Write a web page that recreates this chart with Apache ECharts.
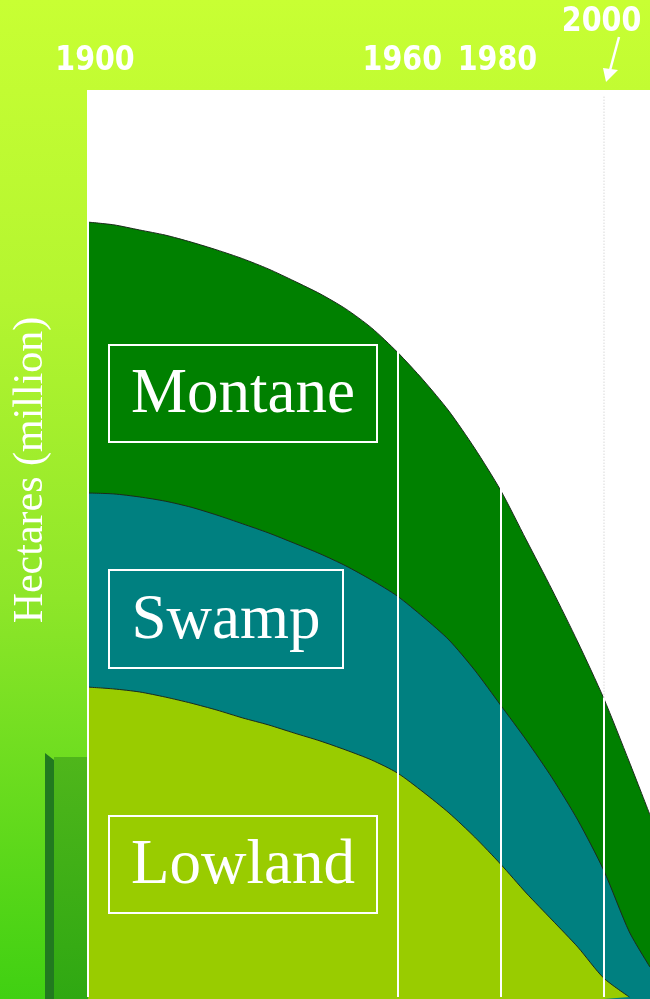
<!DOCTYPE html>
<html>
<head>
<meta charset="utf-8">
<script src="https://cdn.jsdelivr.net/npm/echarts@6/dist/echarts.min.js"></script>
<style>
html,body{margin:0;padding:0;}
#chart{width:650px;height:999px;background:linear-gradient(180deg,#c8ff33 0%,#b4f530 30%,#8ee629 60%,#40d012 100%);}
</style>
</head>
<body>
<div id="chart"></div>
<script>
// ---- data (million hectares) ----
const years   = [1900,1905,1910,1915,1920,1925,1930,1935,1940,1945,1950,1955,1960,1965,1970,1975,1980,1985,1990,1995,2000,2005,2009];
const lowland = [10.25,10.19,10.09,9.92,9.72,9.49,9.23,9.00,8.73,8.47,8.17,7.84,7.41,6.78,6.09,5.29,4.40,3.44,2.55,1.65,0.63,0,null];
const swamp   = [6.42,6.45,6.45,6.48,6.48,6.45,6.42,6.35,6.28,6.19,6.09,5.95,5.85,5.79,5.72,5.52,5.26,5.06,4.70,4.20,3.57,2.15,0.99];
const montane = [8.96,8.90,8.83,8.80,8.77,8.77,8.77,8.73,8.67,8.60,8.50,8.34,8.07,7.84,7.57,7.34,7.11,6.62,6.22,5.89,5.69,5.62,5.03];
const seriesNames = ['Lowland','Swamp','Montane'];
const yearLabels = ['1900','1960','1980','2000'];
const markYears = [1900,1960,1980,2000];
const yTitle = 'Hectares (million)';

const chart = echarts.init(document.getElementById('chart'), null, {renderer:'canvas'});

// cumulative (stacked) tops computed from the layer arrays
const layers = [lowland, swamp, montane];
const cum = layers.map((arr,i)=> years.map((y,j)=>{
  if (arr[j] === null) return [y, null];
  let s = 0; for (let k=0;k<=i;k++) s += (layers[k][j] || 0);
  return [y, +s.toFixed(3)];
}));
const i2000 = years.indexOf(2000);
const totals2000 = lowland[i2000] + swamp[i2000] + montane[i2000];

const colors = ['#99cc00','#008080','#008000'];
const series = [];
for (let i=2;i>=0;i--) {
  series.push({
    name: seriesNames[i], type:'line', data: cum[i],
    showSymbol:false, smooth:0.25, z:2+(2-i), connectNulls:false,
    lineStyle:{color:'#1c2a1c', width:1},
    areaStyle:{color:colors[i], opacity:1, origin:'start'},
    itemStyle:{color:colors[i]}
  });
}
series.push({
  type:'line', data:[], z:20, silent:true,
  markLine:{
    symbol:'none', silent:true, label:{show:false},
    lineStyle:{color:'#ffffff', width:2, type:'solid'},
    data: markYears.map(y=>[{coord:[y,0]},{coord:[y, y===2000 ? totals2000 : 30]}])
  }
});
series.push({
  type:'line', data:[], z:1, silent:true,
  markLine:{
    symbol:'none', silent:true, label:{show:false},
    lineStyle:{color:'#e6e6e6', width:1.5, type:'dotted'},
    data: [[{coord:[2000,totals2000]},{coord:[2000,29.8]}]]
  }
});

chart.setOption({
  backgroundColor:'transparent',
  animation:false,
  grid:{left:88, right:0, top:90, bottom:0, show:true, backgroundColor:'#ffffff', borderWidth:0},
  xAxis:{type:'value', min:1900, max:2009, show:false},
  yAxis:{type:'value', min:-0.066, max:30, show:false},
  series: series
});

// ---- annotations ----
const g = [];
// left decoration bar
g.push({type:'polygon', shape:{points:[[45,753],[54,760],[54,999],[45,999]]}, style:{fill:'#217a1f'}, z:0});
g.push({type:'rect', shape:{x:54,y:757,width:34,height:242},
  style:{fill:new echarts.graphic.LinearGradient(0,0,0,1,[{offset:0,color:'#4fb61b'},{offset:1,color:'#2fa812'}])}, z:0});

// year labels
const labelOffsets = [[7,61],[5,61],[-3,61],[-2,22]];
yearLabels.forEach((t,i)=>{
  const px = chart.convertToPixel({gridIndex:0},[markYears[i],0])[0];
  g.push({type:'text', x:px+labelOffsets[i][0], y:labelOffsets[i][1], scaleX:0.84,
    style:{text:t, fill:'#ffffff', font:"bold 34px 'DejaVu Sans'", align:'center', verticalAlign:'middle'}, z:30});
});
// arrow for 2000
g.push({type:'line', shape:{x1:619,y1:37,x2:609,y2:74}, style:{stroke:'#ffffff', lineWidth:2.5}, z:30});
g.push({type:'polygon', shape:{points:[[603,68],[618,70],[606,82]]}, style:{fill:'#ffffff'}, z:30});

// y title
g.push({type:'text', x:31, y:470, rotation:Math.PI/2,
  style:{text:yTitle, fill:'#ffffff', font:"42px 'Liberation Serif'", align:'center', verticalAlign:'middle'}, z:30});

// series label boxes
const boxes = [
  {name:seriesNames[2], x:109, y:345, w:268, h:97},
  {name:seriesNames[1], x:109, y:570, w:234, h:98},
  {name:seriesNames[0], x:109, y:816, w:268, h:97}
];
boxes.forEach(b=>{
  g.push({type:'rect', shape:{x:b.x,y:b.y,width:b.w,height:b.h}, style:{fill:'none', stroke:'#ffffff', lineWidth:2}, z:30});
  g.push({type:'text', x:b.x+b.w/2, y:b.y+b.h/2+2,
    style:{text:b.name, fill:'#ffffff', font:"63px 'Liberation Serif'", align:'center', verticalAlign:'middle'}, z:30});
});
chart.setOption({graphic:{elements:g}});
</script>
</body>
</html>
